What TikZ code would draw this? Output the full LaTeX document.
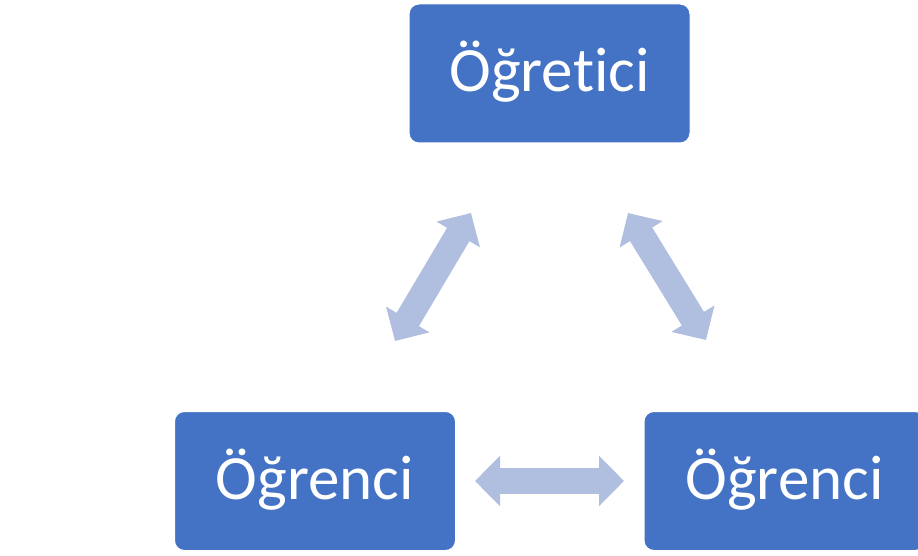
\documentclass[tikz,border=0pt]{standalone}
\usepackage{fontspec}
\setmainfont[Ligatures={NoCommon}]{Carlito}
\usetikzlibrary{arrows.meta}
\definecolor{boxblue}{HTML}{4472C4}
\definecolor{arrowblue}{HTML}{B0BEE0}
\tikzset{
  box/.style={rectangle, rounded corners=10pt, fill=boxblue, draw=white, line width=1pt,
    minimum width=281pt, minimum height=139pt, text=white, inner sep=0pt,
    font=\fontsize{63}{70}\selectfont, text height=50pt, text depth=14pt},
  bigarrow/.style={draw=arrowblue, line width=26pt,
    {Triangle[length=25pt,width=49pt,fill=arrowblue]}-{Triangle[length=25pt,width=49pt,fill=arrowblue]}}
}
\begin{document}
\begin{tikzpicture}[x=1pt,y=-1pt]
\useasboundingbox (0,0) rectangle (918,556);
\clip (0,0) rectangle (918,556);
\node[box] (teacher) at (549.5,73.5) {Öğretici};
\node[box] (studentL) at (315,481) {Öğrenci};
\node[box] (studentR) at (784.5,481) {Öğrenci};
\coordinate (l1) at (395,341);
\coordinate (l2) at (471,213);
\coordinate (r1) at (628,213);
\coordinate (r2) at (706,340);
\coordinate (h1) at (475,481);
\coordinate (h2) at (624,481);
\draw[bigarrow] (l1) -- (l2);
\draw[bigarrow] (r1) -- (r2);
\draw[bigarrow] (h1) -- (h2);
\end{tikzpicture}
\end{document}
